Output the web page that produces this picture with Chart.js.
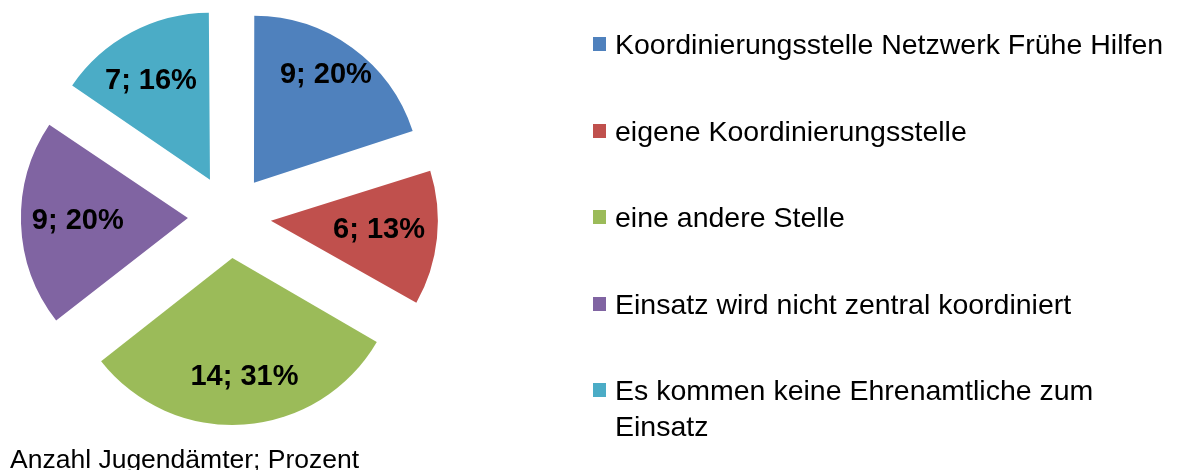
<!DOCTYPE html>
<html>
<head>
<meta charset="utf-8">
<script src="https://cdn.jsdelivr.net/npm/chart.js@4"></script>
<style>
  html, body { margin: 0; padding: 0; background: #fff; }
  #wrap { position: relative; width: 1181px; height: 470px; overflow: hidden; font-family: "Liberation Sans", Arial, sans-serif; }
  #c { position: absolute; left: 0; top: 0; }
  #legend { position: absolute; left: 593px; top: 26px; width: 588px; }
  .row { position: relative; padding-left: 22px; font-size: 28.5px; line-height: 36px; color: #000; white-space: pre-line; margin-bottom: 50.5px; }
  .sw { position: absolute; left: 0; top: 11px; width: 13px; height: 14px; }
  #foot { position: absolute; left: 10px; top: 446px; font-size: 26.5px; line-height: 26px; color: #000; white-space: nowrap; }
</style>
</head>
<body>
<div id="wrap">
  <canvas id="c" width="1181" height="470"></canvas>
  <div id="legend"></div>
  <div id="foot"></div>
</div>
<script>
const categories = [
  "Koordinierungsstelle Netzwerk Frühe Hilfen",
  "eigene Koordinierungsstelle",
  "eine andere Stelle",
  "Einsatz wird nicht zentral koordiniert",
  "Es kommen keine Ehrenamtliche zum\nEinsatz"
];
const counts = [9, 6, 14, 9, 7];
const percents = [20, 13, 31, 20, 16];
const colors = ["#4F81BD", "#C0504D", "#9BBB59", "#8064A2", "#4BACC6"];
const footnote = "Anzahl Jugendämter; Prozent";

const PIE_RADIUS = 167;
const EXPLODE = 41.6;            // pixel shift of every slice
const labelRadiusFactor = [0.778, 0.65, 0.714, 0.66, 0.69];
const labelAngleShiftDeg = [-2.4, -1.2, -1.8, 0.2, -2.8];

const radiusFix = {
  id: 'radiusFix',
  beforeDatasetsDraw(chart) {
    const meta = chart.getDatasetMeta(0);
    meta.data.forEach(arc => {
      const off = (arc.options.offset || 0) / 4;
      const circ = arc.endAngle - arc.startAngle;
      const fix = 1 - Math.sin(Math.min(Math.PI, circ));
      arc.outerRadius = PIE_RADIUS - off * fix;
    });
  }
};

const sliceLabels = {
  id: 'sliceLabels',
  afterDatasetsDraw(chart) {
    const ctx = chart.ctx;
    const meta = chart.getDatasetMeta(0);
    ctx.save();
    ctx.font = 'bold 29px "Liberation Sans", Arial, sans-serif';
    ctx.fillStyle = '#000';
    ctx.textAlign = 'center';
    ctx.textBaseline = 'middle';
    meta.data.forEach((arc, i) => {
      const mid = (arc.startAngle + arc.endAngle) / 2;
      const off = (arc.options.offset || 0) / 4;
      const ax = arc.x + Math.cos(mid) * off;
      const ay = arc.y + Math.sin(mid) * off;
      const ang = mid + labelAngleShiftDeg[i] * Math.PI / 180;
      const r = labelRadiusFactor[i] * PIE_RADIUS;
      ctx.fillText(counts[i] + '; ' + percents[i] + '%', ax + Math.cos(ang) * r, ay + Math.sin(ang) * r);
    });
    ctx.restore();
  }
};

new Chart(document.getElementById('c'), {
  type: 'pie',
  data: {
    labels: categories,
    datasets: [{
      data: counts,
      backgroundColor: colors,
      borderWidth: 0,
      offset: EXPLODE * 4,
      hoverOffset: 0
    }]
  },
  options: {
    responsive: false,
    animation: false,
    radius: PIE_RADIUS,
    layout: { padding: { left: 0, top: 0, right: 722, bottom: 37 } },
    plugins: {
      legend: { display: false },
      tooltip: { enabled: false }
    },
    events: []
  },
  plugins: [radiusFix, sliceLabels]
});

const legend = document.getElementById('legend');
categories.forEach((name, i) => {
  const row = document.createElement('div');
  row.className = 'row';
  const sw = document.createElement('span');
  sw.className = 'sw';
  sw.style.background = colors[i];
  row.appendChild(sw);
  row.appendChild(document.createTextNode(name));
  legend.appendChild(row);
});
document.getElementById('foot').textContent = footnote;
</script>
</body>
</html>
